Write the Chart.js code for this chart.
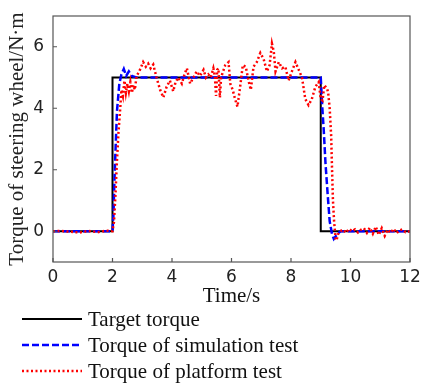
<!DOCTYPE html>
<html>
<head>
<meta charset="utf-8">
<script src="https://cdn.jsdelivr.net/npm/chart.js@4.4.1/dist/chart.umd.min.js"></script>
<style>
  html, body { margin: 0; padding: 0; background: #fff; }
  #wrap { width: 421px; height: 385px; }
</style>
</head>
<body>
<div id="wrap"><canvas id="torqueChart"></canvas></div>
<script>
// Target torque (step input)
const targetTime = [0, 2, 2, 9, 9, 12];
const targetTorque = [0, 0, 5, 5, 0, 0];

// Simulation test
const simTime = [0, 2.0, 2.03, 2.06, 2.1, 2.15, 2.23, 2.3, 2.38, 2.46, 2.55, 2.65, 2.8, 9.0, 9.05, 9.1, 9.16, 9.24, 9.3, 9.38, 9.44, 9.55, 9.66, 12];
const simTorque = [0, 0, 0.5, 1.5, 2.6, 3.9, 4.8, 5.1, 5.28, 5.05, 5.2, 5.05, 5.0, 5.0, 4.06, 3.3, 2.2, 1.1, 0.33, -0.1, -0.25, -0.1, 0, 0];

// Platform test
const platTime = [0, 0.3, 0.6, 0.9, 1.2, 1.5, 1.8, 2.0, 2.05, 2.1, 2.14, 2.2, 2.26, 2.3, 2.35, 2.4, 2.45, 2.5, 2.55, 2.6, 2.65, 2.7, 2.75, 2.81, 2.9,
  3.03, 3.12, 3.2, 3.28, 3.37, 3.48, 3.6, 3.71, 3.82, 3.93, 4.04, 4.12, 4.21, 4.33, 4.42, 4.5, 4.61, 4.72, 4.83, 4.94,
  5.06, 5.14, 5.22, 5.3, 5.39, 5.44, 5.48, 5.52, 5.56, 5.61, 5.65, 5.7, 5.79, 5.9, 5.96, 6.04, 6.12, 6.2, 6.29, 6.38,
  6.48, 6.57, 6.65, 6.74, 6.85, 6.97, 7.08, 7.19, 7.28, 7.36, 7.42, 7.48, 7.59, 7.7, 7.81, 7.92, 8.03, 8.15, 8.26, 8.37,
  8.48, 8.59, 8.7, 8.82, 8.93, 9.0, 9.06, 9.12, 9.21, 9.25, 9.3, 9.35, 9.38, 9.41, 9.45, 9.5, 9.53, 9.58, 9.65,
  9.75, 9.85, 9.95, 10.05, 10.15, 10.25, 10.35, 10.45, 10.55, 10.65, 10.75, 10.85, 10.95, 11.05, 11.15, 11.25,
  11.35, 11.45, 11.55, 11.65, 11.75, 11.85, 12];
const platTorque = [0, 0.01, -0.02, -0.04, 0.01, -0.03, 0.02, 0, 0.3, 1.2, 2.1, 3.2, 4.0, 4.6, 4.4, 4.9, 4.5, 4.8, 4.55, 4.85, 4.5, 4.75, 4.6, 5.05, 5.2,
  5.5, 5.35, 5.45, 5.3, 5.42, 5.0, 4.6, 4.35, 4.7, 4.9, 4.55, 4.85, 5.0, 4.8, 5.1, 5.3, 4.8, 5.0, 5.2, 5.05,
  5.25, 5.0, 5.1, 5.0, 5.3, 5.05, 4.4, 5.25, 5.3, 4.35, 5.0, 5.15, 5.4, 5.5, 4.8, 4.6, 4.3, 4.05, 4.7, 5.4,
  5.35, 4.9, 4.6, 5.35, 5.5, 5.8, 5.6, 5.2, 5.4, 6.1, 5.85, 5.2, 5.5, 5.3, 5.35, 4.9, 5.2, 5.5, 5.25, 5.0,
  4.3, 4.1, 4.3, 4.7, 4.85, 4.3, 4.25, 4.75, 4.65, 4.5, 4.0, 3.1, 2.0, 1.0, 0.3, -0.25, -0.3, -0.1, 0.0,
  0.05, -0.05, 0.08, 0.0, 0.06, -0.04, 0.05, 0.1, -0.05, 0.12, -0.08, 0.15, -0.12, 0.1, -0.15, 0.05,
  -0.05, 0.08, -0.06, 0.03, 0.06, -0.03, 0];

const xTicks = [0, 2, 4, 6, 8, 10, 12];
const yTicks = [0, 2, 4, 6];

const legendLabels = ['Target torque', 'Torque of simulation test', 'Torque of platform test'];

const toPoints = (xs, ys) => xs.map((x, i) => ({ x: x, y: ys[i] }));

// box, inward ticks and the legend under the plot
const framePlugin = {
  id: 'frame',
  afterDraw(chart) {
    const ctx = chart.ctx;
    const a = chart.chartArea;
    const xs = chart.scales.x, ys = chart.scales.y;
    ctx.save();
    ctx.strokeStyle = '#555';
    ctx.lineWidth = 1.2;
    ctx.strokeRect(a.left, a.top, a.right - a.left, a.bottom - a.top);
    ctx.beginPath();
    xTicks.forEach(v => {
      const px = xs.getPixelForValue(v);
      ctx.moveTo(px, a.bottom); ctx.lineTo(px, a.bottom - 4);
    });
    yTicks.forEach(v => {
      const py = ys.getPixelForValue(v);
      ctx.moveTo(a.left, py); ctx.lineTo(a.left + 4, py);
    });
    ctx.stroke();

    // legend
    const ds = chart.data.datasets;
    const rows = [319, 345, 371];
    ctx.font = '21px "Liberation Serif", "Times New Roman", serif';
    ctx.textBaseline = 'middle';
    ctx.fillStyle = '#111';
    legendLabels.forEach((label, i) => {
      const d = ds[i];
      ctx.beginPath();
      ctx.strokeStyle = d.borderColor;
      ctx.lineWidth = d.borderWidth;
      ctx.setLineDash(d.borderDash || []);
      ctx.moveTo(22, rows[i]); ctx.lineTo(82, rows[i]);
      ctx.stroke();
      ctx.setLineDash([]);
      ctx.fillText(label, 88, rows[i] + 1);
    });
    ctx.restore();
  }
};

new Chart(document.getElementById('torqueChart'), {
  type: 'line',
  data: {
    datasets: [
      { label: legendLabels[0], data: toPoints(targetTime, targetTorque), borderColor: '#000', borderWidth: 2, order: 2 },
      { label: legendLabels[1], data: toPoints(simTime, simTorque), borderColor: '#0000ff', borderWidth: 2.5, borderDash: [7, 3], order: 1 },
      { label: legendLabels[2], data: toPoints(platTime, platTorque), borderColor: '#ff0000', borderWidth: 2.5, borderDash: [2, 2.5], order: 0 }
    ]
  },
  options: {
    responsive: true,
    maintainAspectRatio: false,
    animation: false,
    elements: { point: { radius: 0 }, line: { tension: 0 } },
    layout: { padding: { left: 5, right: 11, top: 16, bottom: 78 } },
    plugins: { legend: { display: false }, tooltip: { enabled: false } },
    scales: {
      x: {
        type: 'linear', min: 0, max: 12,
        afterBuildTicks: s => { s.ticks = xTicks.map(v => ({ value: v })); },
        afterFit: s => { s.paddingLeft = 0; s.paddingRight = 0; s.height = 45; },
        grid: { display: false, drawTicks: false },
        border: { display: false },
        ticks: { padding: 5, color: '#222', font: { family: '"DejaVu Sans", sans-serif', size: 17 } },
        title: { display: true, text: 'Time/s', color: '#111', padding: { top: -5, bottom: 0 },
          font: { family: '"Liberation Serif", "Times New Roman", serif', size: 21, lineHeight: 1 } }
      },
      y: {
        type: 'linear', min: -1, max: 7,
        afterBuildTicks: s => { s.ticks = yTicks.map(v => ({ value: v })); },
        afterFit: s => { s.width = 48; s.paddingTop = 0; s.paddingBottom = 0; },
        grid: { display: false, drawTicks: false },
        border: { display: false },
        ticks: { padding: 9, color: '#222', font: { family: '"DejaVu Sans", sans-serif', size: 17 } },
        title: { display: true, text: 'Torque of steering wheel/N·m', color: '#222', padding: { top: 2, bottom: 2 },
          font: { family: '"Liberation Serif", "Times New Roman", serif', size: 21, lineHeight: 1 } }
      }
    }
  },
  plugins: [framePlugin]
});
</script>
</body>
</html>
